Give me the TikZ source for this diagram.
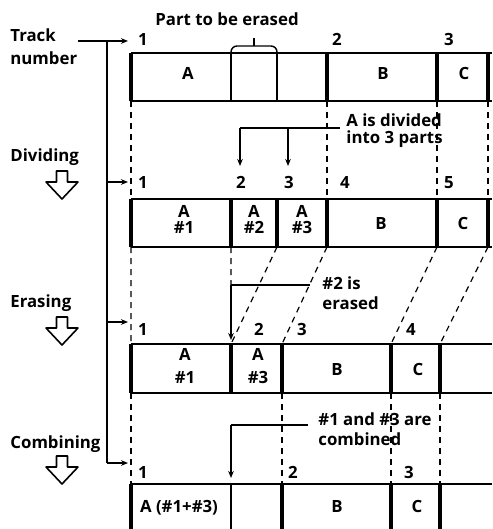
\documentclass[tikz,border=0pt]{standalone}
\usepackage{fontspec}
\setmainfont{Open Sans}
\usetikzlibrary{arrows.meta}
\tikzset{
  every picture/.style={line join=round, >=Stealth},
  lbl/.style={font=\bfseries\fontsize{8.4}{#1}\selectfont, inner sep=0pt, align=center},
  lbl/.default=10,
  edge/.style={line width=0.7pt},
  bar/.style={line width=1.8pt},
  guide/.style={line width=0.6pt, dash pattern=on 3pt off 2.5pt},
  ptr/.style={line width=0.6pt, -{Stealth[length=3.5pt,width=2.8pt]}},
  dnarrow/.pic={\draw[line width=0.8pt, fill=white] (-5.5,0) -- (5.5,0) -- (5.5,11) -- (16,11) -- (0,28) -- (-16,11) -- (-5.5,11) -- cycle;},
}

\begin{document}
\begin{tikzpicture}[x=0.5pt,y=-0.5pt]
\useasboundingbox (0,0) rectangle (492,529);
% corners of the four track rows
\foreach \x [count=\i] in {131,231,277,327,437,488,492}{
  \coordinate (r1t\i) at (\x,53); \coordinate (r1b\i) at (\x,101);
  \coordinate (r2t\i) at (\x,199); \coordinate (r2b\i) at (\x,247);}
\foreach \x [count=\i] in {131,231,282,391,440,492}{
  \coordinate (r3t\i) at (\x,344); \coordinate (r3b\i) at (\x,393);
  \coordinate (r4t\i) at (\x,484); \coordinate (r4b\i) at (\x,529);}

% row 1
\draw[edge] (r1t1) -- (r1t7) (r1b1) -- (r1b7) (r1t2) -- (r1b2) (r1t3) -- (r1b3);
\foreach \i in {1,4,5,6} \draw[bar] (r1t\i) -- (r1b\i);
% row 2
\draw[edge] (r2t1) -- (r2t7) (r2b1) -- (r2b7);
\foreach \i in {1,...,6} \draw[bar] (r2t\i) -- (r2b\i);
% row 3
\draw[edge] (r3t1) -- (r3t6) (r3b1) -- (r3b6);
\foreach \i in {1,...,5} \draw[bar] (r3t\i) -- (r3b\i);
% row 4
\draw[edge] (r4t1) -- (r4t6) (r4t2) -- (r4b2);
\foreach \i in {1,3,4,5} \draw[bar] (r4t\i) -- (r4b\i);

% texts in the tracks (base = last line)
\node[lbl] (a1) at (188,80) [anchor=base] {A};
\node[lbl] (b1) at (383,80) [anchor=base] {B};
\node[lbl] (c1) at (464,80) [anchor=base] {C};
\node[lbl=7.5] (a2x) at (184,233) [anchor=base] {A\\\#1};
\node[lbl=7.5] (a2y) at (254,233) [anchor=base] {A\\\#2};
\node[lbl=7.5] (a2z) at (302,233) [anchor=base] {A\\\#3};
\node[lbl] (b2) at (381,229) [anchor=base] {B};
\node[lbl] (c2) at (463,229) [anchor=base] {C};
\node[lbl=11.5] (a3x) at (185,383) [anchor=base] {A\\\#1};
\node[lbl=11.5] (a3z) at (258,383) [anchor=base] {A\\\#3};
\node[lbl] (b3) at (337,375) [anchor=base] {B};
\node[lbl] (c3) at (418,375) [anchor=base] {C};
\node[lbl] (a4) at (179,512) [anchor=base] {A (\#1+\#3)};
\node[lbl] (b4) at (337,512) [anchor=base] {B};
\node[lbl] (c4) at (417,512) [anchor=base] {C};

% track numbers
\node[lbl] (n11) at (143,46) [anchor=base] {1};
\node[lbl] (n12) at (337,46) [anchor=base] {2};
\node[lbl] (n13) at (449,46) [anchor=base] {3};
\node[lbl] (n21) at (143,189) [anchor=base] {1};
\node[lbl] (n22) at (241,189) [anchor=base] {2};
\node[lbl] (n23) at (289,189) [anchor=base] {3};
\node[lbl] (n24) at (345,189) [anchor=base] {4};
\node[lbl] (n25) at (449,189) [anchor=base] {5};
\node[lbl] (n31) at (143,335) [anchor=base] {1};
\node[lbl] (n32) at (259,335) [anchor=base] {2};
\node[lbl] (n33) at (302,335) [anchor=base] {3};
\node[lbl] (n34) at (411,335) [anchor=base] {4};
\node[lbl] (n41) at (143,478) [anchor=base] {1};
\node[lbl] (n42) at (293,478) [anchor=base] {2};
\node[lbl] (n43) at (409,478) [anchor=base] {3};

% dashed guides between the rows
\coordinate (erc) at (231,285);
\draw[guide] (r1b1) -- (r2t1) (r1b4) -- (r2t4) (r1b5) -- (r2t5) (r1b6) -- (r2t6);
\draw[guide] (r2b1) -- (r3t1) (r2b2) -- (erc) (r2b3) -- (r3t2) (r2b4) -- (r3t3)
  (r2b5) -- (r3t4) (r2b6) -- (r3t5);
\draw[guide] (r3b1) -- (r4t1) (r3b3) -- (r4t3) (r3b4) -- (r4t4) (r3b5) -- (r4t5);

% left labels
\node[lbl=11.5, align=left] (track) at (10,65) [anchor=base west] {Track\\number};
\node[lbl] (divide) at (10,162) [anchor=base west] {Dividing};
\node[lbl] (erase) at (10,307) [anchor=base west] {Erasing};
\node[lbl] (combine) at (10,448) [anchor=base west] {Combining};
\pic at (62,171) {dnarrow};
\pic at (62,317) {dnarrow};
\pic at (62,456) {dnarrow};

% track number pointers
\coordinate (tk0) at (78,41);
\coordinate (tk1) at (107,41);
\coordinate (tk4) at (107,463);
\coordinate (tip1) at (128,41);
\coordinate (tip2) at (128,182);
\coordinate (tip3) at (128,322);
\coordinate (tip4) at (128,463);
\draw[ptr] (tk0) -- (tip1);
\draw[line width=0.6pt] (tk1) -- (tk4);
\draw[ptr] (tk4) -- (tip4);
\draw[ptr] (tk1 |- tip2) -- (tip2);
\draw[ptr] (tk1 |- tip3) -- (tip3);

% part to be erased
\node[lbl] (part) at (155,26) [anchor=base west] {Part to be erased};
\coordinate (bk) at (254,46);
\coordinate (bktop) at (254,38);
\draw[edge, rounded corners=3pt] (r1t2) |- (bk) -| (r1t3);
\draw[edge] (bk) -- (bktop);

% dividing note
\node[lbl=8.5, align=left] (divnote) at (346,144) [anchor=base west] {A is divided\\into 3 parts};
\coordinate (dv0) at (340,128);
\coordinate (dv1) at (240,128);
\coordinate (dv2) at (288,128);
\draw[line width=0.6pt] (dv0) -- (dv1);
\draw[ptr] (dv1) -- (240,166);
\draw[ptr] (dv2) -- (288,166);

% erasing note
\node[lbl=10, align=left] (ernote) at (322,309) [anchor=base west] {\#2 is\\erased};
\coordinate (er0) at (310,285);
\draw[line width=0.6pt] (er0) -- (erc);
\draw[ptr] (erc) -- (231,340);

% combining note
\node[lbl=10, align=left] (cbnote) at (318,445) [anchor=base west] {\#1 and \#3 are\\combined};
\coordinate (cb0) at (308,425);
\coordinate (cbc) at (231,425);
\draw[line width=0.6pt] (cb0) -- (cbc);
\draw[ptr] (cbc) -- (231,478);
\end{tikzpicture}
\end{document}
